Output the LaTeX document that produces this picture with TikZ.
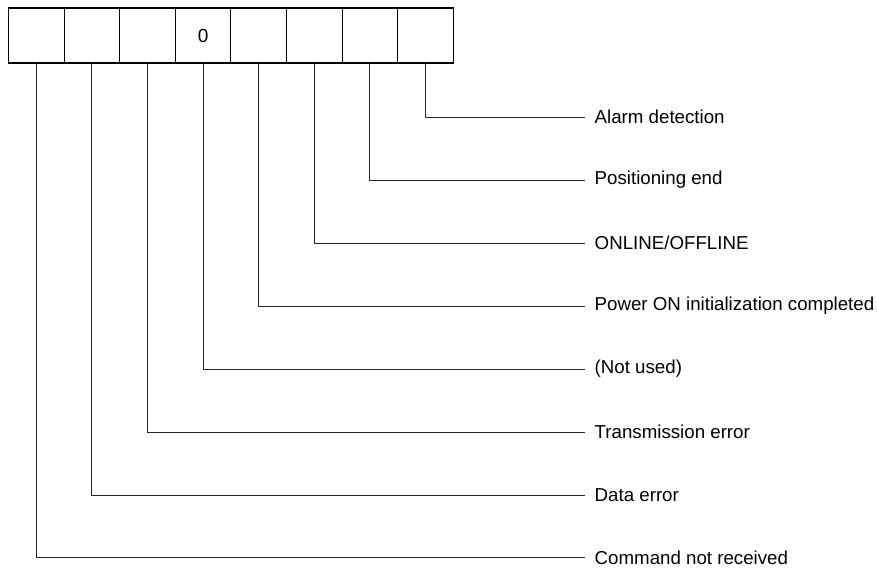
\documentclass[tikz,border=0pt]{standalone}
\usepackage{fontspec}
\setmainfont{Liberation Sans}
\usetikzlibrary{positioning}

\begin{document}
\begin{tikzpicture}[
    x=1pt, y=-1pt,
    bitbox/.style={rectangle, draw, line width=1.1pt, outer sep=0pt, minimum width=55.6pt, minimum height=55pt, inner sep=0pt, font=\fontsize{19}{23}\selectfont},
    lbl/.style={anchor=west, inner xsep=9.5pt, inner ysep=0pt, font=\fontsize{18.7}{22}\selectfont},
    lead/.style={line width=0.9pt, black!85}
]
\useasboundingbox (0,0) rectangle (877,567);

% register bits
\node[bitbox] (b1) at (36.3,35.5) {};
\node[bitbox, right=0pt of b1] (b2) {};
\node[bitbox, right=0pt of b2] (b3) {};
\node[bitbox, right=0pt of b3] (b4) {0};
\node[bitbox, right=0pt of b4] (b5) {};
\node[bitbox, right=0pt of b5] (b6) {};
\node[bitbox, right=0pt of b6] (b7) {};
\node[bitbox, right=0pt of b7] (b8) {};

% meanings
\node[lbl] (alarm) at (585,117) {Alarm detection};
\node[lbl] (posend) at (585,180) {Positioning end};
\node[lbl] (online) at (585,243) {ONLINE/OFFLINE};
\node[lbl] (poweron) at (585,306) {Power ON initialization completed};
\node[lbl] (unused) at (585,369) {(Not used)};
\node[lbl] (transerr) at (585,432) {Transmission error};
\node[lbl] (dataerr) at (585,495) {Data error};
\node[lbl] (nocmd) at (585,557.5) {Command not received};

% leaders
\draw[lead] (b8.south) |- (alarm.west);
\draw[lead] (b7.south) |- (posend.west);
\draw[lead] (b6.south) |- (online.west);
\draw[lead] (b5.south) |- (poweron.west);
\draw[lead] (b4.south) |- (unused.west);
\draw[lead] (b3.south) |- (transerr.west);
\draw[lead] (b2.south) |- (dataerr.west);
\draw[lead] (b1.south) |- (nocmd.west);

\end{tikzpicture}
\end{document}
